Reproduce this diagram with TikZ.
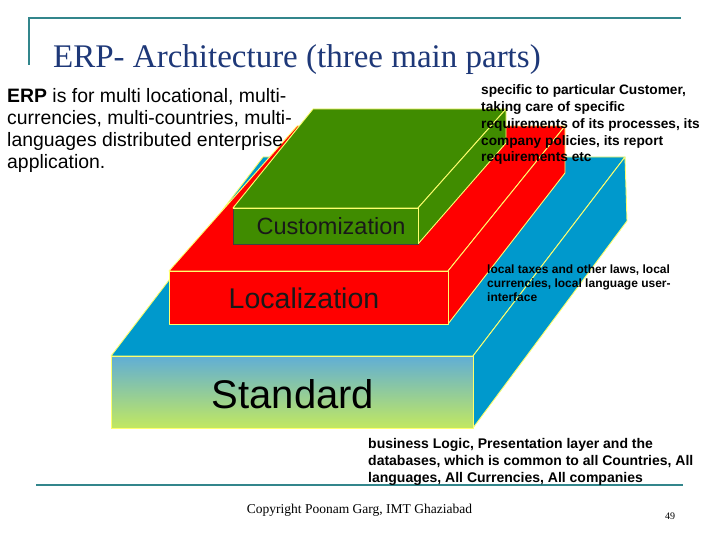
\documentclass[tikz,border=0pt]{standalone}
\usepackage{fontspec}
\setmainfont{Liberation Serif}
\setsansfont{Liberation Sans}
\definecolor{stdblue}{RGB}{0,153,204}
\definecolor{gradtop}{RGB}{96,174,214}
\definecolor{gradbot}{RGB}{194,232,96}
\definecolor{locred}{RGB}{255,0,0}
\definecolor{cusgreen}{RGB}{64,140,0}
\definecolor{edgey}{RGB}{255,255,110}
\definecolor{titlenavy}{RGB}{30,56,120}
\definecolor{rulecol}{RGB}{50,134,140}
\begin{document}
\begin{tikzpicture}[x=1pt,y=-1pt,
  face/.style={draw=edgey, line width=0.9pt, line join=round},
  boxlabel/.style={anchor=base, inner sep=0pt, font=\sffamily},
  note/.style={anchor=base west, inner sep=0pt, align=left, font=\sffamily\bfseries},
  rulestyle/.style={draw=rulecol, line width=2pt}]
\useasboundingbox (0,0) rectangle (720,540);
\fill[white] (0,0) rectangle (720,540);

% ---- Standard (blue) box
\coordinate (sFTL) at (111,356);
\coordinate (sFTR) at (473,356);
\coordinate (sFBR) at (473,428);
\coordinate (sBTL) at (263,157);
\coordinate (sBTR) at (625,157);
\coordinate (sBBR) at (627,221);
\draw[face, fill=stdblue] (sFTL) -- (sBTL) -- (sBTR) -- (sFTR) -- cycle;
\draw[face, fill=stdblue] (sFTR) -- (sBTR) -- (sBBR) -- (sFBR) -- cycle;
\draw[face, top color=gradtop, bottom color=gradbot] (sFTL) rectangle (sFBR);

% ---- Localization (red) box
\coordinate (lFTL) at (169,271);
\coordinate (lFTR) at (448,271);
\coordinate (lFBR) at (448,324);
\coordinate (lBTL) at (297,126);
\coordinate (lBTR) at (565,126);
\coordinate (lBBR) at (565,173);
\draw[face, fill=locred] (lFTL) -- (lBTL) -- (lBTR) -- (lFTR) -- cycle;
\draw[face, fill=locred] (lFTR) -- (lBTR) -- (lBBR) -- (lFBR) -- cycle;
\draw[face, fill=locred] (lFTL) rectangle (lFBR);

% ---- Customization (green) box
\coordinate (cFTL) at (233,208);
\coordinate (cFTR) at (418,208);
\coordinate (cFBR) at (418,244);
\coordinate (cFBL) at (233,244);
\coordinate (cBTL) at (313,109);
\coordinate (cBTR) at (506,109);
\coordinate (cBBR) at (506,143);
\draw[face, fill=cusgreen] (cFTL) -- (cBTL) -- (cBTR) -- (cFTR) -- cycle;
\draw[face, fill=cusgreen] (cFTR) -- (cBTR) -- (cBBR) -- (cFBR) -- cycle;
\draw[draw=black!75, line width=0.9pt, fill=cusgreen] (cFTL) rectangle (cFBR);
\draw[draw=edgey, line width=0.9pt] (cFTL) -- (cFTR) -- (cFBR);

% ---- box labels
\node[boxlabel, font=\sffamily\fontsize{40}{40}\selectfont] (stdlabel) at (293,408) {Standard};
\node[boxlabel, font=\sffamily\fontsize{28.5}{28.5}\selectfont, text=black!90] (loclabel) at (304,308) {Localization};
\node[boxlabel, font=\sffamily\fontsize{23.5}{23.5}\selectfont, text=black!90] (cuslabel) at (331,235) {Customization};

% ---- frame rules and title
\draw[rulestyle] (29,65) -- (29,18) -- (681,18);
\draw[rulestyle, line width=2.5pt] (36,485) -- (683,485);
\node[anchor=base west, inner sep=0pt, text=titlenavy, font=\fontsize{33}{33}\selectfont] (title) at (53,68) {ERP- Architecture (three main parts)};

% ---- notes (anchored at the baseline of their last line)
\node[anchor=base west, inner sep=0pt, align=left, font=\sffamily\fontsize{19.4}{21.7}\selectfont] (intro) at (7,168.1)
  {\textbf{ERP} is for multi locational, multi-\\currencies, multi-countries, multi-\\languages distributed enterprise\\application.};
\node[note, font=\sffamily\bfseries\fontsize{13.7}{16.7}\selectfont] (cusnote) at (481,161.8)
  {specific to particular Customer,\\taking care of specific\\requirements of its processes, its\\company policies, its report\\requirements etc};
\node[note, font=\sffamily\bfseries\fontsize{12}{14}\selectfont] (locnote) at (487,301)
  {local taxes and other laws, local\\currencies, local language user-\\interface};
\node[note, font=\sffamily\bfseries\fontsize{14}{17}\selectfont] (stdnote) at (368,482)
  {business Logic, Presentation layer and the\\databases, which is common to all Countries, All\\languages, All Currencies, All companies};

% ---- footer
\node[anchor=base, inner sep=0pt, font=\fontsize{13.5}{13.5}\selectfont] (footer) at (359.5,513) {Copyright Poonam Garg, IMT Ghaziabad};
\node[anchor=base, inner sep=0pt, font=\fontsize{10}{10}\selectfont] (pagenum) at (670,519) {49};
\end{tikzpicture}
\end{document}
